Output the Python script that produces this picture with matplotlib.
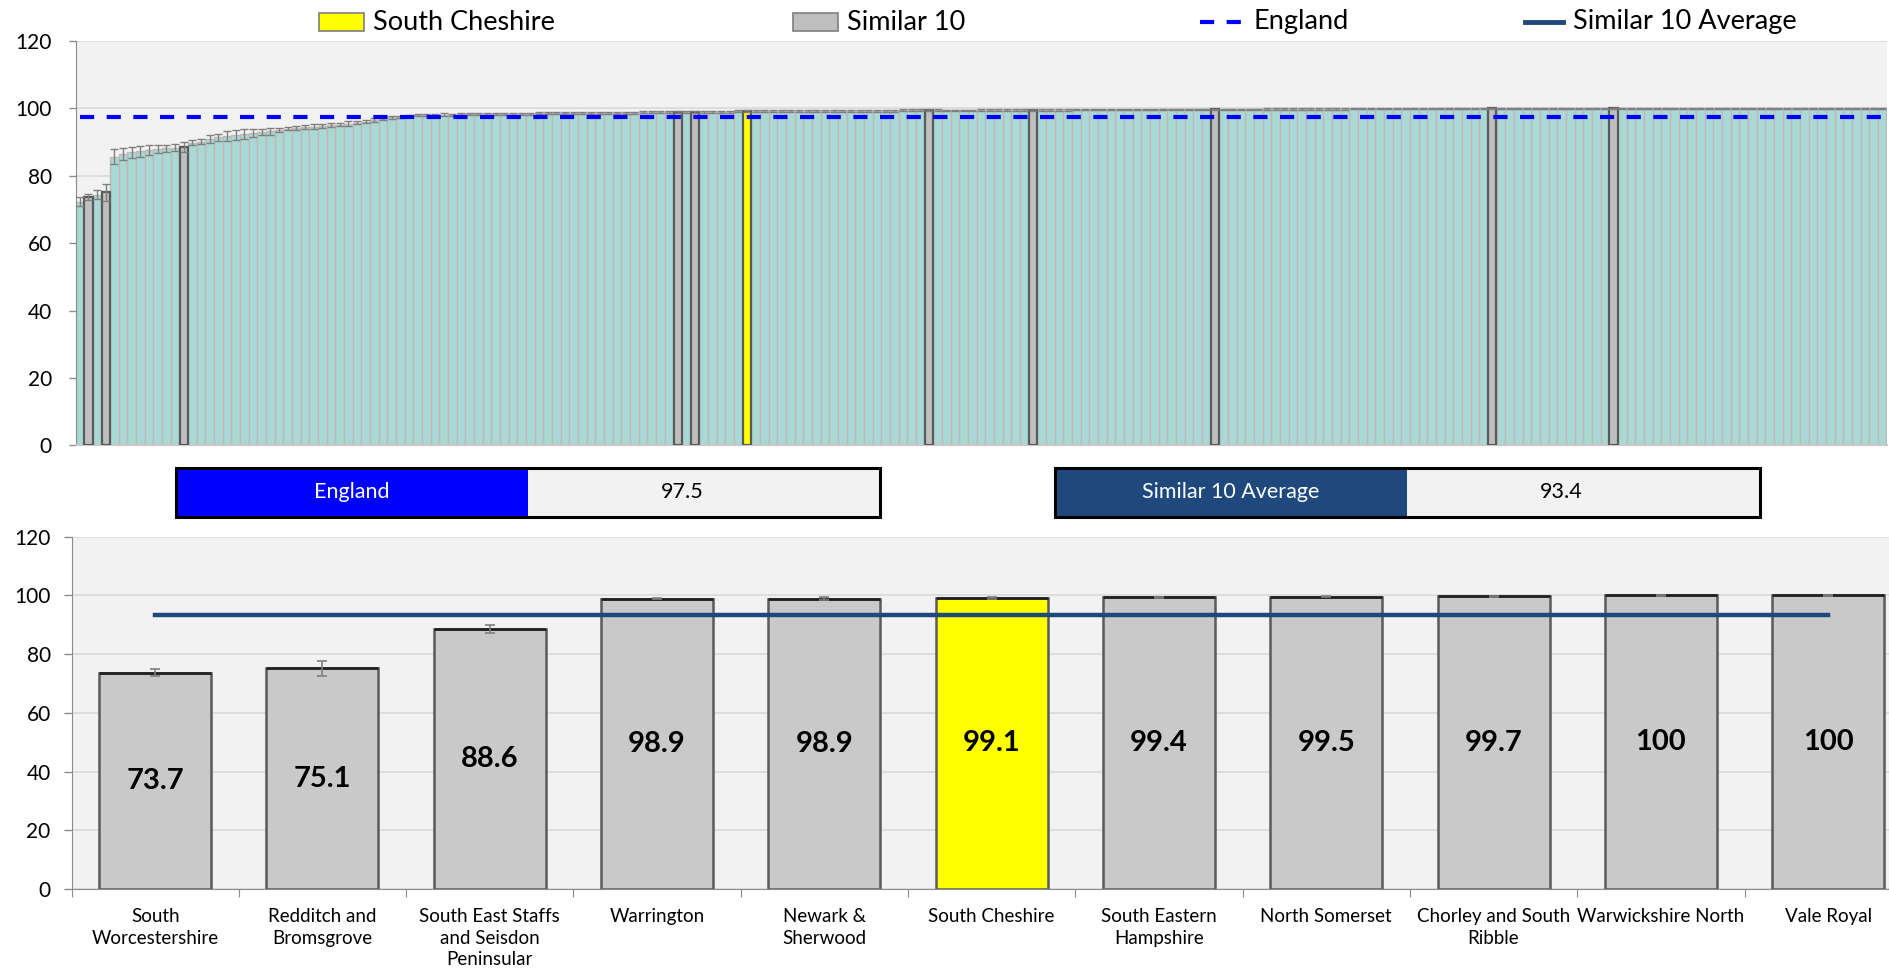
import matplotlib
matplotlib.use('Agg')
import matplotlib.pyplot as plt
from matplotlib.patches import Rectangle
from matplotlib.lines import Line2D

plt.rcParams['font.family'] = ['Lato', 'DejaVu Sans']

# ---------------- data ----------------
# all CCGs ranked (top chart)
top_values = (
    [72.3, 73.7, 74.4, 75.1, 85.6, 86.4, 87.0, 87.3, 87.6, 87.9,
     88.1, 88.3, 88.6, 89.8, 90.1, 91.0, 91.4, 91.8, 92.0, 92.3,
     92.7, 93.0, 93.2, 93.6, 94.0, 94.2, 94.5, 94.6, 94.8, 95.0,
     95.2, 95.5, 95.8, 96.1, 96.5, 96.9, 97.3, 97.5, 97.8, 97.9,
     98.0, 98.0, 98.1, 98.1, 98.2]
    + [98.2, 98.2, 98.3, 98.3, 98.3, 98.4, 98.4, 98.4, 98.5, 98.5,
       98.5, 98.5, 98.6, 98.6, 98.6, 98.6, 98.7, 98.7, 98.7, 98.7,
       98.8, 98.8, 98.8, 98.8, 98.9, 98.9, 98.9, 99.0, 99.0, 99.0,
       99.0, 99.1, 99.1]
    + [99.1] * 3 + [99.2] * 7 + [99.3] * 7 + [99.4] * 4
    + [99.4] * 5 + [99.5] * 6
    + [99.5] * 5 + [99.6] * 10 + [99.7] * 7
    + [99.7] * 5 + [99.8] * 10 + [99.9] * 10 + [100.0] * 6
    + [100.0] * 46
)
top_errors = (
    [1.4, 1.0, 1.3, 2.5, 2.2, 1.8, 1.6, 1.6, 1.5, 1.2,
     1.0, 1.0, 1.4, 0.8, 0.8, 1.2, 1.0, 1.5, 1.5, 1.5,
     1.2, 0.8, 1.0, 0.6, 0.5, 0.5, 0.7, 0.7, 0.7, 0.6,
     0.5, 0.7, 0.4, 0.5, 0.5, 0.4, 0.4, 0.3, 0.3, 0.3,
     0.4, 0.3, 0.4, 0.3, 0.3]
    + [0.3] * 55 + [0.2] * 109
)
similar_ranks = [1, 3, 12, 69, 71, 98, 110, 131, 163, 177]
cheshire_rank = 77
england_value = 97.5
similar_avg = 93.4

# similar 10 (bottom chart)
areas = ['South\nWorcestershire', 'Redditch and\nBromsgrove',
         'South East Staffs\nand Seisdon\nPeninsular', 'Warrington',
         'Newark &\nSherwood', 'South Cheshire', 'South Eastern\nHampshire',
         'North Somerset', 'Chorley and South\nRibble', 'Warwickshire North',
         'Vale Royal']
area_values = [73.7, 75.1, 88.6, 98.9, 98.9, 99.1, 99.4, 99.5, 99.7, 100, 100]
area_labels = ['73.7', '75.1', '88.6', '98.9', '98.9', '99.1', '99.4',
               '99.5', '99.7', '100', '100']
area_errors = [1.3, 2.5, 1.4, 0.2, 0.4, 0.4, 0.2, 0.2, 0.2, 0.1, 0.1]
highlight_area = 'South Cheshire'

# ---------------- style ----------------
TEAL = '#a8d9d4'
TEAL_EDGE = '#c3b6b6'
GREY = '#bfbfbf'
GREY_B = '#c9c9c9'
YELLOW = '#ffff00'
DARK_EDGE = '#5a5a5a'
BG = '#f2f2f2'
GRID = '#d9d9d9'
NAVY = '#1f497d'
BLUE = '#0000ff'

W, H = 1889, 972
fig = plt.figure(figsize=(W / 100, H / 100), dpi=100)
fig.patch.set_facecolor('white')


def fx(px):
    return px / W


def fy(py):
    return 1 - py / H


# ---------------- top chart ----------------
n = len(top_values)
ax1 = fig.add_axes([fx(75.5), fy(445.3), fx(1811), (445.3 - 41) / H])
ax1.set_facecolor(BG)
colors = [TEAL] * n
for r in similar_ranks:
    colors[r] = GREY
colors[cheshire_rank] = YELLOW
xs = list(range(n))
order_base = [i for i in xs if colors[i] == TEAL]
order_hi = [i for i in xs if colors[i] != TEAL]
ax1.bar(order_base, [top_values[i] for i in order_base], width=1.0,
        color=TEAL, edgecolor=TEAL_EDGE, linewidth=1.0, zorder=2)
ax1.bar(order_hi, [top_values[i] for i in order_hi], width=0.95,
        color=[colors[i] for i in order_hi], edgecolor=DARK_EDGE,
        linewidth=1.6, zorder=3)
ax1.errorbar(xs, top_values, yerr=top_errors, fmt='none', ecolor='#7f7f7f',
             elinewidth=1.0, capsize=2.6, capthick=1.0, zorder=4)
eng_line, = ax1.plot(xs, [england_value] * n, color=BLUE, linewidth=3.0,
                     zorder=5)
eng_line.set_dashes((3.4, 3.0))
ax1.set_xlim(-0.5, n - 0.5)
ax1.set_ylim(0, 120)
ax1.set_yticks(range(0, 121, 20))
ax1.yaxis.grid(True, color=GRID, linewidth=1.2, zorder=0)
ax1.set_axisbelow(True)
ax1.set_xticks([])
for s in ['top', 'right']:
    ax1.spines[s].set_visible(False)
ax1.spines['left'].set_color('#8c8c8c')
ax1.spines['bottom'].set_color('#c8c8c8')
ax1.spines['bottom'].set_linewidth(1.5)
ax1.tick_params(axis='y', length=5, width=1, color='#8c8c8c', pad=12,
                labelsize=15)

# ---------------- legend (manual) ----------------
ly = 22
LFS = 19.5
fig.add_artist(Rectangle((fx(319), fy(31)), fx(45), 18 / H,
                         facecolor=YELLOW, edgecolor='#7f7f7f', lw=1.2,
                         transform=fig.transFigure))
fig.text(fx(373), fy(ly), 'South Cheshire', fontsize=LFS, va='center',
         ha='left')
fig.add_artist(Rectangle((fx(793), fy(31)), fx(45), 18 / H,
                         facecolor=GREY, edgecolor='#7f7f7f', lw=1.2,
                         transform=fig.transFigure))
fig.text(fx(847), fy(ly), 'Similar 10', fontsize=LFS, va='center', ha='left')
leg_eng = Line2D([fx(1200), fx(1243)], [fy(ly), fy(ly)], color=BLUE,
                 linewidth=3.0, transform=fig.transFigure)
leg_eng.set_dashes((3.4, 3.0))
fig.add_artist(leg_eng)
fig.text(fx(1254), fy(ly), 'England', fontsize=LFS, va='center', ha='left')
fig.add_artist(Line2D([fx(1525), fx(1563)], [fy(ly), fy(ly)], color=NAVY,
                      linewidth=3.5, transform=fig.transFigure))
fig.text(fx(1573), fy(ly), 'Similar 10 Average', fontsize=LFS, va='center',
         ha='left')


# ---------------- value boxes ----------------
def value_box(x0, xm, x1, y0, y1, label, value, fill):
    fig.add_artist(Rectangle((fx(x0), fy(y1)), fx(xm - x0), (y1 - y0) / H,
                             facecolor=fill, edgecolor='none',
                             transform=fig.transFigure))
    fig.add_artist(Rectangle((fx(xm), fy(y1)), fx(x1 - xm), (y1 - y0) / H,
                             facecolor=BG, edgecolor='none',
                             transform=fig.transFigure))
    fig.add_artist(Rectangle((fx(x0), fy(y1)), fx(x1 - x0), (y1 - y0) / H,
                             facecolor='none', edgecolor='black', lw=2.2,
                             transform=fig.transFigure))
    yc = (y0 + y1) / 2
    fig.text(fx((x0 + xm) / 2), fy(yc), label, color='white', fontsize=15.5,
             ha='center', va='center')
    fig.text(fx((xm + x1) / 2 - 22), fy(yc), value, color='black',
             fontsize=15.5, ha='center', va='center')


value_box(176, 528, 880, 468, 517, 'England', f'{england_value}', BLUE)
value_box(1055, 1407, 1760, 468, 517, 'Similar 10 Average', f'{similar_avg}',
          NAVY)

# ---------------- bottom chart ----------------
m = len(areas)
pitch = 167.3
ax2 = fig.add_axes([fx(71.5), fy(889), fx(pitch * m), (889 - 536.6) / H])
ax2.set_facecolor(BG)
bx = list(range(m))
bcolors = [YELLOW if a.replace('\n', ' ') == highlight_area else GREY_B
           for a in areas]
bw = 0.67
ax2.bar(bx, area_values, width=bw, color=bcolors, edgecolor=DARK_EDGE,
        linewidth=1.8, zorder=2)
ax2.hlines(area_values, [x - bw / 2 for x in bx], [x + bw / 2 for x in bx],
           color='#222222', linewidth=2.0, zorder=3)
ax2.errorbar(bx, area_values, yerr=area_errors, fmt='none', ecolor='#7f7f7f',
             elinewidth=1.2, capsize=3.5, capthick=1.2, zorder=4)
ax2.plot(bx, [similar_avg] * m, color=NAVY, linewidth=3.2, zorder=5)
for x, v, t in zip(bx, area_values, area_labels):
    ax2.text(x, v / 2, t, ha='center', va='center', fontsize=21,
             fontweight='bold', color='black', zorder=6)
ax2.set_xlim(-0.5, m - 0.5)
ax2.set_ylim(0, 120)
ax2.set_yticks(range(0, 121, 20))
ax2.yaxis.grid(True, color=GRID, linewidth=1.2, zorder=0)
ax2.set_axisbelow(True)
ax2.set_xticks([x - 0.5 for x in bx] + [m - 0.5])
ax2.set_xticklabels([])
ax2.set_xticks(bx, minor=True)
ax2.set_xticklabels(areas, minor=True, fontsize=13.5, linespacing=1.3,
                    va='top')
ax2.tick_params(axis='x', which='major', length=6, color='#8c8c8c')
ax2.tick_params(axis='x', which='minor', length=0, pad=14)
for s in ['top', 'right']:
    ax2.spines[s].set_visible(False)
ax2.spines['left'].set_color('#8c8c8c')
ax2.spines['bottom'].set_color('#8c8c8c')
ax2.tick_params(axis='y', length=6, width=1, color='#8c8c8c', pad=9,
                labelsize=15)

fig.savefig('out.png', dpi=100, facecolor='white')
